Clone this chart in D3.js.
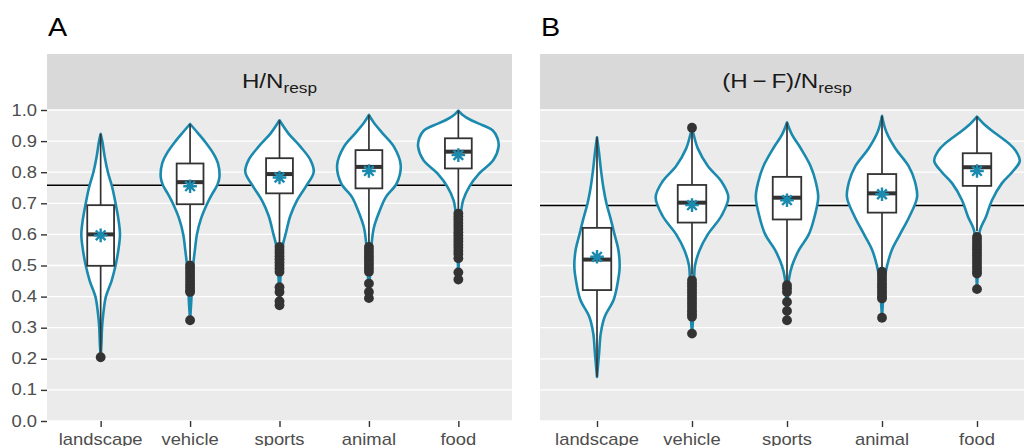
<!DOCTYPE html>
<html>
<head>
<meta charset="utf-8">
<script src="https://cdn.jsdelivr.net/npm/d3@7"></script>
<style>
  body { margin: 0; background: #fff; }
  svg { display: block; font-family: "Liberation Sans", Arial, sans-serif; }
</style>
</head>
<body>
<svg id="chart" width="1024" height="446"></svg>
<script>
// categories and reference lines
let cats = ["landscape", "vehicle", "sports", "animal", "food"];
let yTicks = [0, 0.1, 0.2, 0.3, 0.4, 0.5, 0.6, 0.7, 0.8, 0.9, 1.0];
let refA = 0.758;
let refB = 0.693;

// panel A: H / N_resp  (box stats per category)
let loA   = [0.22, 0.515, 0.575, 0.57, 0.68];
let q1A   = [0.499, 0.697, 0.732, 0.748, 0.812];
let medA  = [0.600, 0.768, 0.794, 0.817, 0.866];
let q3A   = [0.694, 0.828, 0.845, 0.871, 0.909];
let hiA   = [0.923, 0.955, 0.967, 0.984, 0.998];
let meanA = [0.597, 0.755, 0.783, 0.804, 0.855];
let outA = [
  [0.205],
  [0.50, 0.49, 0.48, 0.47, 0.46, 0.45, 0.44, 0.43, 0.42, 0.415, 0.324],
  [0.56, 0.55, 0.54, 0.53, 0.52, 0.51, 0.50, 0.49, 0.48, 0.43, 0.415, 0.385, 0.372],
  [0.56, 0.55, 0.54, 0.53, 0.52, 0.51, 0.50, 0.49, 0.48, 0.442, 0.415, 0.395],
  [0.667, 0.657, 0.647, 0.637, 0.627, 0.617, 0.607, 0.597, 0.587, 0.577, 0.567, 0.557, 0.547, 0.537, 0.523, 0.478, 0.455]
];
// violin profiles: [value, relative density]
let violinA = [
  [[0.205, 0], [0.25, 0.02], [0.30, 0.035], [0.35, 0.07], [0.40, 0.13], [0.45, 0.27], [0.50, 0.37], [0.55, 0.44],
   [0.60, 0.48], [0.65, 0.44], [0.70, 0.37], [0.75, 0.29], [0.80, 0.18], [0.85, 0.10], [0.90, 0.04], [0.923, 0]],
  [[0.324, 0], [0.40, 0.035], [0.45, 0.045], [0.50, 0.075], [0.55, 0.12], [0.60, 0.17], [0.65, 0.27], [0.70, 0.43],
   [0.73, 0.55], [0.76, 0.68], [0.785, 0.73], [0.83, 0.69], [0.86, 0.58], [0.90, 0.36], [0.925, 0.2], [0.955, 0]],
  [[0.372, 0], [0.45, 0.02], [0.52, 0.05], [0.57, 0.09], [0.60, 0.15], [0.66, 0.27], [0.71, 0.44], [0.753, 0.65],
   [0.80, 0.85], [0.839, 0.77], [0.882, 0.52], [0.925, 0.22], [0.967, 0]],
  [[0.388, 0], [0.45, 0.02], [0.53, 0.04], [0.58, 0.075], [0.62, 0.12], [0.667, 0.24], [0.72, 0.42], [0.764, 0.69],
   [0.823, 0.79], [0.882, 0.62], [0.925, 0.34], [0.96, 0.12], [0.984, 0]],
  [[0.453, 0], [0.55, 0.02], [0.65, 0.05], [0.68, 0.075], [0.71, 0.12], [0.753, 0.27], [0.796, 0.52], [0.839, 0.87],
   [0.882, 1.0], [0.91, 0.97], [0.935, 0.85], [0.95, 0.62], [0.967, 0.32], [0.985, 0.1], [0.998, 0]]
];

// panel B: (H - F) / N_resp
let loB   = [0.142, 0.47, 0.45, 0.49, 0.61];
let q1B   = [0.421, 0.638, 0.648, 0.670, 0.756];
let medB  = [0.519, 0.702, 0.718, 0.732, 0.816];
let q3B   = [0.621, 0.759, 0.785, 0.794, 0.861];
let hiB   = [0.912, 0.93, 0.960, 0.981, 0.979];
let meanB = [0.528, 0.694, 0.710, 0.729, 0.804];
let outB = [
  [],
  [0.943, 0.453, 0.443, 0.433, 0.423, 0.413, 0.403, 0.393, 0.383, 0.373, 0.363, 0.353, 0.343, 0.335, 0.281],
  [0.437, 0.427, 0.415, 0.383, 0.354, 0.324],
  [0.48, 0.47, 0.46, 0.45, 0.44, 0.43, 0.42, 0.41, 0.40, 0.394, 0.332],
  [0.592, 0.582, 0.572, 0.562, 0.552, 0.542, 0.532, 0.522, 0.512, 0.502, 0.492, 0.482, 0.474, 0.424]
];
let violinB = [
  [[0.142, 0], [0.22, 0.05], [0.281, 0.087], [0.335, 0.18], [0.39, 0.39], [0.45, 0.49], [0.496, 0.53], [0.55, 0.5],
   [0.60, 0.41], [0.65, 0.32], [0.70, 0.22], [0.75, 0.15], [0.81, 0.09], [0.86, 0.05], [0.912, 0]],
  [[0.281, 0], [0.33, 0.025], [0.46, 0.05], [0.50, 0.07], [0.55, 0.18], [0.60, 0.37], [0.66, 0.69], [0.72, 0.85],
   [0.77, 0.69], [0.82, 0.37], [0.875, 0.14], [0.92, 0.04], [0.943, 0]],
  [[0.324, 0], [0.41, 0.025], [0.46, 0.05], [0.50, 0.12], [0.55, 0.28], [0.60, 0.51], [0.66, 0.65], [0.72, 0.73],
   [0.77, 0.67], [0.82, 0.55], [0.877, 0.32], [0.92, 0.12], [0.96, 0]],
  [[0.332, 0], [0.39, 0.025], [0.45, 0.05], [0.50, 0.12], [0.55, 0.23], [0.60, 0.42], [0.66, 0.65], [0.72, 0.82],
   [0.77, 0.77], [0.82, 0.62], [0.877, 0.31], [0.93, 0.1], [0.981, 0]],
  [[0.424, 0], [0.50, 0.025], [0.57, 0.04], [0.614, 0.07], [0.657, 0.21], [0.71, 0.35], [0.764, 0.58], [0.80, 0.82],
   [0.836, 1.0], [0.87, 0.9], [0.893, 0.74], [0.925, 0.43], [0.95, 0.2], [0.979, 0]]
];

let teal = "#1a8aae";
let dark = "#333333";
let sx = 1.15; // the reference text is a little wide

let svg = d3.select("#chart");

let y = d3.scaleLinear().domain([0, 1]).range([421, 110]);

function txt(g, x, yy, s, size, color, anchor) {
  return g.append("text")
    .attr("transform", "translate(" + x + "," + yy + ") scale(" + sx + ",1)")
    .attr("font-size", size + "px")
    .attr("fill", color)
    .attr("text-anchor", anchor)
    .text(s);
}

function drawPanel(opt) {
  let x = d3.scalePoint().domain(cats).range([opt.x0, opt.x1]).padding(0.6);
  let step = x.step();
  let g = svg.append("g");

  // strip
  g.append("rect")
    .attr("x", opt.x0).attr("y", 54)
    .attr("width", opt.x1 - opt.x0).attr("height", 56)
    .attr("fill", "#d9d9d9");
  let st = g.append("text")
    .attr("transform", "translate(" + ((opt.x0 + opt.x1) / 2) + ",88) scale(" + sx + ",1)")
    .attr("font-size", "21px")
    .attr("fill", "#1a1a1a")
    .attr("text-anchor", "middle");
  st.append("tspan").text(opt.strip);
  st.append("tspan").attr("font-size", "15px").attr("dy", 5).text("resp");

  // tag
  txt(svg, opt.x0 + 1, 36, opt.tag, 25, "#000", "start");

  // panel background + grid
  g.append("rect")
    .attr("x", opt.x0).attr("y", y(1))
    .attr("width", opt.x1 - opt.x0).attr("height", y(0) - y(1))
    .attr("fill", "#ebebeb");
  g.selectAll("line.grid")
    .data(yTicks)
    .enter()
    .append("line")
    .attr("class", "grid")
    .attr("x1", opt.x0).attr("x2", opt.x1)
    .attr("y1", function(d) { return y(d); })
    .attr("y2", function(d) { return y(d); })
    .attr("stroke", "#fff")
    .attr("stroke-width", 1.3);

  // reference line
  g.append("line")
    .attr("x1", opt.x0).attr("x2", opt.x1)
    .attr("y1", y(opt.ref)).attr("y2", y(opt.ref))
    .attr("stroke", "#000")
    .attr("stroke-width", 1.7);

  // violins
  let area = d3.area()
    .curve(d3.curveCatmullRom)
    .y(function(d) { return y(d[0]); });
  g.selectAll("path.violin")
    .data(opt.violin)
    .enter()
    .append("path")
    .attr("class", "violin")
    .attr("d", function(d, i) {
      let cx = x(cats[i]);
      return area
        .x0(function(p) { return cx - p[1] * 0.45 * step; })
        .x1(function(p) { return cx + p[1] * 0.45 * step; })(d);
    })
    .attr("fill", "#fff")
    .attr("stroke", teal)
    .attr("stroke-width", 2.6)
    .attr("stroke-linejoin", "round");

  let bw = 0.3 * step;
  cats.forEach(function(c, i) {
    let cx = x(c);
    // whiskers
    g.append("line")
      .attr("x1", cx).attr("x2", cx)
      .attr("y1", y(opt.hi[i])).attr("y2", y(opt.q3[i]))
      .attr("stroke", dark).attr("stroke-width", 1.7);
    g.append("line")
      .attr("x1", cx).attr("x2", cx)
      .attr("y1", y(opt.q1[i])).attr("y2", y(opt.lo[i]))
      .attr("stroke", dark).attr("stroke-width", 1.7);
    // box
    g.append("rect")
      .attr("x", cx - bw / 2).attr("y", y(opt.q3[i]))
      .attr("width", bw).attr("height", y(opt.q1[i]) - y(opt.q3[i]))
      .attr("fill", "#fff")
      .attr("stroke", dark).attr("stroke-width", 1.8);
    g.append("line")
      .attr("x1", cx - bw / 2).attr("x2", cx + bw / 2)
      .attr("y1", y(opt.med[i])).attr("y2", y(opt.med[i]))
      .attr("stroke", dark).attr("stroke-width", 4);
    // outliers
    g.selectAll("circle.o" + i)
      .data(opt.out[i])
      .enter()
      .append("circle")
      .attr("cx", cx)
      .attr("cy", function(d) { return y(d); })
      .attr("r", 4.9)
      .attr("fill", dark);
    // mean asterisk
    let my = y(opt.mean[i]);
    let r = 6.8;
    let k = r * Math.SQRT1_2;
    g.append("path")
      .attr("d", "M" + (cx - r) + "," + my + "H" + (cx + r) +
                 "M" + cx + "," + (my - r) + "V" + (my + r) +
                 "M" + (cx - k) + "," + (my - k) + "L" + (cx + k) + "," + (my + k) +
                 "M" + (cx - k) + "," + (my + k) + "L" + (cx + k) + "," + (my - k))
      .attr("stroke", teal)
      .attr("stroke-width", 2.4)
      .attr("fill", "none");
  });

  // x axis
  let xa = g.append("g")
    .attr("transform", "translate(0," + y(0) + ")")
    .call(d3.axisBottom(x).tickSize(6).tickSizeOuter(0));
  xa.select(".domain").remove();
  xa.selectAll(".tick line").attr("stroke", dark).attr("stroke-width", 1.4);
  xa.selectAll(".tick text").remove();
  cats.forEach(function(c) {
    txt(g, x(c), 445, c, 16, "#4d4d4d", "middle");
  });

  if (opt.yaxis) {
    let ya = g.append("g")
      .attr("transform", "translate(" + opt.x0 + ",0)")
      .call(d3.axisLeft(y).tickValues(yTicks).tickSize(6).tickFormat(d3.format(".1f")));
    ya.select(".domain").remove();
    ya.selectAll(".tick line").attr("stroke", dark).attr("stroke-width", 1.4);
    ya.selectAll(".tick text").remove();
    yTicks.forEach(function(t) {
      txt(g, opt.x0 - 10, y(t) + 5.5, d3.format(".1f")(t), 16, "#4d4d4d", "end");
    });
  }
}

drawPanel({
  x0: 47, x1: 512, tag: "A", strip: "H/N", ref: refA, yaxis: true,
  lo: loA, q1: q1A, med: medA, q3: q3A, hi: hiA, mean: meanA, out: outA, violin: violinA
});
drawPanel({
  x0: 540, x1: 1034, tag: "B", strip: "(H\u2009\u2212\u2009F)/N", ref: refB, yaxis: false,
  lo: loB, q1: q1B, med: medB, q3: q3B, hi: hiB, mean: meanB, out: outB, violin: violinB
});
</script>
</body>
</html>
